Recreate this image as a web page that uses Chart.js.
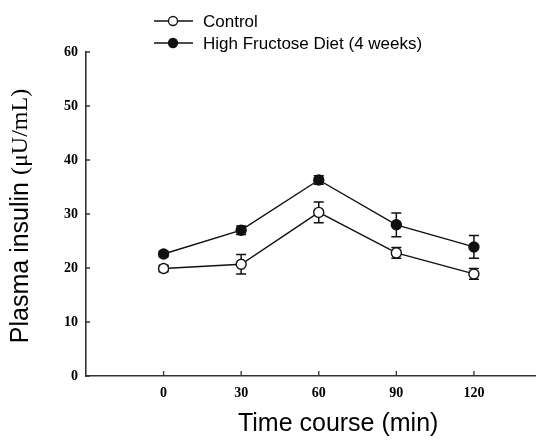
<!DOCTYPE html>
<html>
<head>
<meta charset="utf-8">
<script src="https://cdn.jsdelivr.net/npm/chart.js@4.4.1/dist/chart.umd.min.js"></script>
<style>
  html, body { margin: 0; padding: 0; background: #fff; }
  #wrap { width: 536px; height: 445px; }
</style>
</head>
<body>
<div id="wrap"><canvas id="insulin_chart" width="536" height="445"></canvas></div>
<script>
    // values
    const times = [0, 30, 60, 90, 120];
    const controlMean = [19.9, 20.7, 30.3, 22.8, 18.9];
    const controlErr = [0.6, 1.8, 1.9, 1.0, 1.0];
    const hfdMean = [22.6, 27.0, 36.3, 28.0, 23.9];
    const hfdErr = [0.5, 0.8, 0.8, 2.2, 2.1];
    const yTicks = [0, 10, 20, 30, 40, 50, 60];
    const seriesNames = ['Control', 'High Fructose Diet (4 weeks)'];

    const ink = '#111';
    const axisColor = '#333';
    const tickFont = { family: 'Liberation Serif', size: 14, weight: 'bold' };

    function toXY(xs, ys) {
        var out = [];
        for (var i = 0; i < xs.length; i++) {
            out.push({ x: xs[i], y: ys[i] });
        }
        return out;
    }

    // error bars, drawn under the markers
    const errorBars = {
        id: 'errorBars',
        beforeDatasetsDraw(chart) {
            const ctx = chart.ctx;
            const xs = chart.scales.x, ys = chart.scales.y;
            ctx.save();
            ctx.strokeStyle = ink;
            ctx.lineWidth = 1.5;
            chart.data.datasets.forEach(function(ds) {
                ds.data.forEach(function(p, i) {
                    const e = ds.errors[i];
                    const px = xs.getPixelForValue(p.x);
                    const top = ys.getPixelForValue(p.y + e);
                    const bot = ys.getPixelForValue(p.y - e);
                    ctx.beginPath();
                    ctx.moveTo(px, top); ctx.lineTo(px, bot);
                    ctx.moveTo(px - 5, top); ctx.lineTo(px + 5, top);
                    ctx.moveTo(px - 5, bot); ctx.lineTo(px + 5, bot);
                    ctx.stroke();
                });
            });
            ctx.restore();
        }
    };

    // inward tick marks, axis titles and the legend
    const decorations = {
        id: 'decorations',
        afterDraw(chart) {
            const ctx = chart.ctx;
            const xs = chart.scales.x, ys = chart.scales.y;
            const area = chart.chartArea;
            ctx.save();
            ctx.strokeStyle = axisColor;
            ctx.lineWidth = 1.3;
            ctx.beginPath();
            yTicks.forEach(function(v) {
                const py = ys.getPixelForValue(v);
                ctx.moveTo(area.left, py); ctx.lineTo(area.left + 4, py);
            });
            times.forEach(function(v) {
                const px = xs.getPixelForValue(v);
                ctx.moveTo(px, area.bottom); ctx.lineTo(px, area.bottom - 5);
            });
            ctx.stroke();

            // x title
            ctx.fillStyle = '#000';
            ctx.textAlign = 'center';
            ctx.textBaseline = 'middle';
            ctx.font = '25px "Liberation Sans", Arial, sans-serif';
            ctx.fillText('Time course (min)', xs.getPixelForValue(67.5), 424);

            // y title, sans + serif parts
            ctx.translate(21, 216);
            ctx.rotate(-Math.PI / 2);
            const partA = 'Plasma insulin ';
            const partB = '(\u03BCU/mL)';
            const fontA = '25px "Liberation Sans", Arial, sans-serif';
            const fontB = '24px "Liberation Serif", "Times New Roman", serif';
            ctx.font = fontA;
            const wA = ctx.measureText(partA).width;
            ctx.font = fontB;
            const wB = ctx.measureText(partB).width;
            let start = -(wA + wB) / 2;
            ctx.textAlign = 'left';
            ctx.font = fontA;
            ctx.fillText(partA, start, 0);
            ctx.font = fontB;
            ctx.fillText(partB, start + wA, 0);
            ctx.setTransform(1, 0, 0, 1, 0, 0);

            // legend
            const rows = [21, 43];
            ctx.font = '17px "Liberation Sans", Arial, sans-serif';
            ctx.textAlign = 'left';
            chart.data.datasets.forEach(function(ds, i) {
                const y = rows[i];
                ctx.strokeStyle = ink;
                ctx.lineWidth = 1.3;
                ctx.beginPath();
                ctx.moveTo(154, y); ctx.lineTo(193, y);
                ctx.stroke();
                ctx.beginPath();
                ctx.arc(173, y, 4.5, 0, Math.PI * 2);
                ctx.fillStyle = ds.pointBackgroundColor;
                ctx.fill();
                ctx.stroke();
                ctx.fillStyle = '#000';
                ctx.fillText(ds.label, 203, y + 1);
            });
            ctx.restore();
        }
    };

    function makeSet(label, means, errs, fillColor) {
        return {
            label: label,
            data: toXY(times, means),
            errors: errs,
            borderColor: ink,
            borderWidth: 1.4,
            pointRadius: 5,
            pointBorderWidth: 1.4,
            pointBorderColor: ink,
            pointBackgroundColor: fillColor,
            tension: 0,
            fill: false,
        };
    }

    try {
        let chartCanvas = document.getElementById('insulin_chart').getContext('2d');
        let chartObject = new Chart(chartCanvas, {
            type: 'line',
            data: {
                datasets: [
                    makeSet(seriesNames[0], controlMean, controlErr, '#fff'),
                    makeSet(seriesNames[1], hfdMean, hfdErr, ink),
                ],
            },
            options: {
                responsive: false,
                animation: false,
                devicePixelRatio: 1,
                layout: {
                    autoPadding: false,
                    padding: { top: 52, right: 0, left: 0, bottom: 0 },
                },
                plugins: {
                    legend: { display: false },
                    tooltip: { enabled: false },
                },
                scales: {
                    x: {
                        type: 'linear',
                        min: -30,
                        max: 144,
                        afterBuildTicks: function(scale) {
                            scale.ticks = times.map(function(v) { return { value: v }; });
                        },
                        afterFit: function(scale) {
                            scale.height = 69;
                            scale.paddingLeft = 0;
                            scale.paddingRight = 0;
                        },
                        grid: { display: false, drawTicks: false },
                        border: { display: true, color: axisColor, width: 1.6 },
                        ticks: { color: '#000', font: tickFont, padding: 9, maxRotation: 0 },
                    },
                    y: {
                        min: 0,
                        max: 60,
                        afterBuildTicks: function(scale) {
                            scale.ticks = yTicks.map(function(v) { return { value: v }; });
                        },
                        afterFit: function(scale) {
                            scale.width = 86;
                            scale.paddingTop = 0;
                            scale.paddingBottom = 0;
                        },
                        grid: { display: false, drawTicks: false },
                        border: { display: true, color: axisColor, width: 1.6 },
                        ticks: { color: '#000', font: tickFont, padding: 8 },
                    },
                },
            },
            plugins: [errorBars, decorations],
        });
    } catch (error) {
        console.log(`error: ${error.message}`);
    }
</script>
</body>
</html>
